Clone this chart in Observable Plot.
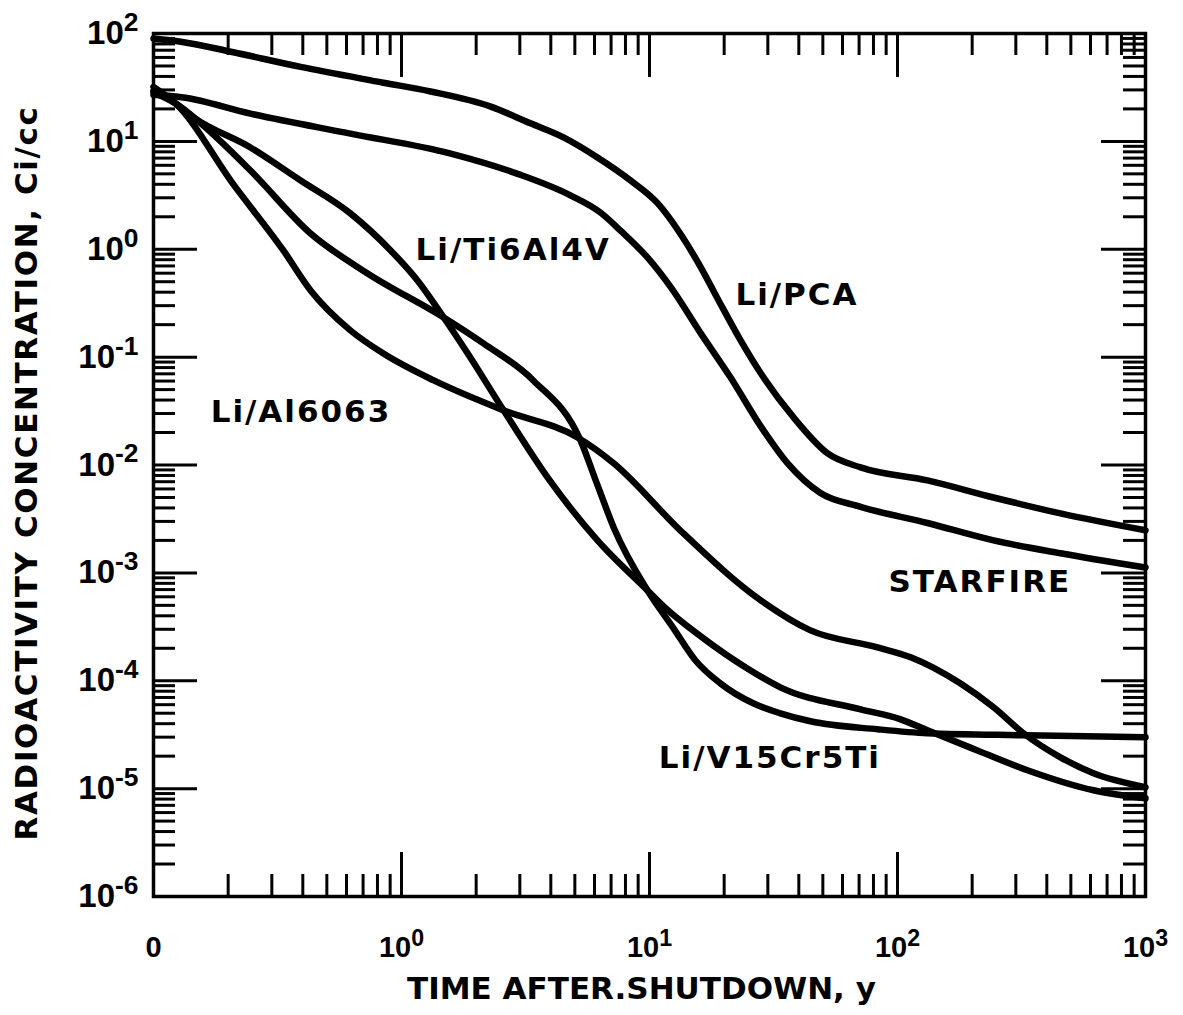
<!DOCTYPE html>
<html><head><meta charset="utf-8">
<script src="https://cdn.jsdelivr.net/npm/d3@7"></script>
<script src="https://cdn.jsdelivr.net/npm/@observablehq/plot@0.6"></script>
<style>
html,body{margin:0;padding:0;background:#fff;}
svg{display:block;}
</style>
</head><body>
<div id="chart"></div>
<script>
// ---- Data (time after shutdown in years, activity in Ci/cc) ----
const pcaT = [0.1, 0.129, 0.21, 0.392, 0.845, 1.31, 2.29, 3.31, 4.5, 6.17, 8.38, 10.8, 13.3, 16.1, 19.0, 23.3, 28.8, 38.1, 52.3, 71, 132, 244, 454, 1000];
const pcaC = [90, 84, 67, 49, 35, 29, 21, 14.7, 10.9, 7.1, 4.35, 2.66, 1.4, 0.68, 0.335, 0.143, 0.065, 0.0276, 0.0128, 0.0095, 0.0072, 0.005, 0.00356, 0.00248];

const starT = [0.1, 0.132, 0.246, 0.622, 1.58, 2.94, 4.8, 6.34, 7.64, 9.81, 12.2, 16.1, 21.2, 28.1, 36, 48.9, 71, 132, 244, 454, 1000];
const starC = [27, 25.5, 18.1, 11.8, 7.7, 5.0, 3.16, 2.19, 1.49, 0.84, 0.443, 0.166, 0.065, 0.0228, 0.0104, 0.0055, 0.0041, 0.0029, 0.002, 0.00152, 0.00112];

const tiT = [0.1, 0.123, 0.145, 0.246, 0.392, 0.622, 0.904, 1.16, 1.48, 1.85, 2.58, 3.88, 6.17, 9.81, 11.4, 16.1, 24.8, 33.7, 71, 103, 132, 210, 334, 617, 1000];
const tiC = [29.6, 22.4, 16.7, 8.78, 4.34, 2.15, 0.975, 0.514, 0.233, 0.108, 0.0321, 0.00767, 0.002, 6.88e-4, 4.9e-4, 2.58e-4, 1.3e-4, 8.69e-5, 5.43e-5, 4.39e-5, 3.47e-5, 2.26e-5, 1.48e-5, 9.65e-6, 8.13e-6];

const vT = [0.1, 0.123, 0.155, 0.246, 0.43, 0.73, 1.48, 2.14, 3.4, 5.27, 6.17, 7.17, 9.81, 12.5, 15.3, 19.3, 26.2, 33.7, 44.6, 83, 132, 334, 1000];
const vC = [28.4, 22.4, 14.7, 5.37, 1.4, 0.597, 0.233, 0.134, 0.0608, 0.0169, 0.0065, 0.00264, 6.88e-4, 3.06e-4, 1.55e-4, 9.46e-5, 6.18e-5, 4.99e-5, 4.21e-5, 3.55e-5, 3.26e-5, 3.12e-5, 2.99e-5];

const alT = [0.1, 0.123, 0.21, 0.334, 0.43, 0.622, 0.845, 1.35, 2.58, 5.13, 7.17, 13.3, 28.1, 44.6, 83, 113, 179, 244, 322, 454, 617, 1000];
const alC = [32, 22.4, 3.99, 0.975, 0.415, 0.177, 0.108, 0.0608, 0.0321, 0.018, 0.0104, 0.00248, 5.56e-4, 2.93e-4, 2.04e-4, 1.65e-4, 9.46e-5, 5.67e-5, 3.26e-5, 1.95e-5, 1.39e-5, 1.03e-5];

// curve labels
const labelNames = ["Li/PCA", "STARFIRE", "Li/Ti6Al4V", "Li/V15Cr5Ti", "Li/Al6063"];
const labelT = [22.2, 92, 1.14, 10.9, 0.17];
const labelC = [0.373, 8.17e-4, 0.975, 1.91e-5, 0.0307];

// axes
const xTickValues = [0.1, 1, 10, 100, 1000];
const xTickLabels = ["0", "10^0", "10^1", "10^2", "10^3"];
const yTickValues = [1e-6, 1e-5, 1e-4, 1e-3, 1e-2, 1e-1, 1, 10, 100];
const yTickLabels = ["10^-6", "10^-5", "10^-4", "10^-3", "10^-2", "10^-1", "10^0", "10^1", "10^2"];
const xTitle = "TIME AFTER.SHUTDOWN, y";
const yTitle = "RADIOACTIVITY CONCENTRATION, Ci/cc";

const minorMult = [2, 3, 4, 5, 6, 7, 8, 9];
const xDecades = [0.1, 1, 10, 100];
const yDecades = [1e-6, 1e-5, 1e-4, 1e-3, 1e-2, 1e-1, 1, 10];
const xMajorInner = [1, 10, 100];
const yMajorInner = [1e-5, 1e-4, 1e-3, 1e-2, 1e-1, 1, 10];

// ---- build tables ----
const series = [
  {name: "Li/PCA", t: pcaT, c: pcaC},
  {name: "STARFIRE", t: starT, c: starC},
  {name: "Li/Ti6Al4V", t: tiT, c: tiC},
  {name: "Li/V15Cr5Ti", t: vT, c: vC},
  {name: "Li/Al6063", t: alT, c: alC}
];
const rows = series.flatMap(s => s.t.map((t, i) => ({curve: s.name, t, c: s.c[i]})));
const labels = labelNames.map((name, i) => ({name, t: labelT[i], c: labelC[i]}));
const xMinor = xDecades.flatMap(d => minorMult.map(m => m * d));
const yMinor = yDecades.flatMap(d => minorMult.map(m => m * d));

const W = 1183, H = 1015, mL = 153, mR = 38, mT = 33, mB = 119;
const plotW = W - mL - mR, plotH = H - mT - mB;
const majorLen = 44, minorLen = 22, tickW = 3;
const ink = "#000";

const chart = Plot.plot({
  width: W, height: H,
  marginLeft: mL, marginRight: mR, marginTop: mT, marginBottom: mB,
  x: {type: "log", domain: [0.1, 1000]},
  y: {type: "log", domain: [1e-6, 100]},
  style: {background: "#fff", color: ink},
  marks: [
    // inward tick marks on all four sides
    Plot.tickX(xMinor, {x: d => d, insetTop: plotH - minorLen, stroke: ink, strokeWidth: tickW}),
    Plot.tickX(xMinor, {x: d => d, insetBottom: plotH - minorLen, stroke: ink, strokeWidth: tickW}),
    Plot.tickX(xMajorInner, {x: d => d, insetTop: plotH - majorLen, stroke: ink, strokeWidth: tickW}),
    Plot.tickX(xMajorInner, {x: d => d, insetBottom: plotH - majorLen, stroke: ink, strokeWidth: tickW}),
    Plot.tickY(yMinor, {y: d => d, insetRight: plotW - minorLen, stroke: ink, strokeWidth: tickW}),
    Plot.tickY(yMinor, {y: d => d, insetLeft: plotW - minorLen, stroke: ink, strokeWidth: tickW}),
    Plot.tickY(yMajorInner, {y: d => d, insetRight: plotW - majorLen, stroke: ink, strokeWidth: tickW}),
    Plot.tickY(yMajorInner, {y: d => d, insetLeft: plotW - majorLen, stroke: ink, strokeWidth: tickW}),
    Plot.frame({stroke: ink, strokeWidth: 3.5}),
    // curves
    Plot.line(rows, {x: "t", y: "c", z: "curve", stroke: ink, strokeWidth: 6.5, curve: "monotone-x"}),
    // curve labels
    Plot.text(labels, {x: "t", y: "c", text: "name", textAnchor: "start", lineAnchor: "middle",
      fontSize: 31, fontWeight: "bold", fontFamily: "DejaVu Sans", fill: ink}),
    // axes tick labels
    Plot.axisX(xTickValues, {tickSize: 0, tickPadding: 40, tickFormat: d => xTickLabels[xTickValues.indexOf(d)],
      fontSize: 29, fontWeight: "bold", fontFamily: "Liberation Sans", label: null}),
    Plot.axisY(yTickValues, {tickSize: 0, tickPadding: 15, tickFormat: d => yTickLabels[yTickValues.indexOf(d)],
      fontSize: 33, fontWeight: "bold", fontFamily: "Liberation Sans", label: null}),
    // axis titles
    Plot.text([xTitle], {text: d => d, frameAnchor: "bottom", textAnchor: "middle", dx: -8, dy: 102, lineAnchor: "bottom",
      fontSize: 31, fontWeight: "bold", fontFamily: "DejaVu Sans", fill: ink}),
    Plot.text([yTitle], {text: d => d, frameAnchor: "left", textAnchor: "middle", dx: -126, dy: 8, rotate: -90, lineAnchor: "middle",
      fontSize: 31, fontWeight: "bold", fontFamily: "DejaVu Sans", fill: ink})
  ]
});

// superscript exponents in tick labels, letter spacing for the hand-lettered look
d3.select(chart).selectAll("text").each(function() {
  const t = this.textContent;
  const m = t.match(/^(10)\^(.+)$/);
  if (m) {
    const sel = d3.select(this);
    sel.text(null);
    sel.append("tspan").text(m[1]);
    sel.append("tspan").attr("dy", "-0.5em").attr("font-size", "0.8em").text(m[2]);
  } else if (labelNames.includes(t)) this.setAttribute("letter-spacing", "2");
  else if (t === yTitle) this.setAttribute("letter-spacing", "1.6");
});

document.getElementById("chart").appendChild(chart);
</script>
</body></html>
